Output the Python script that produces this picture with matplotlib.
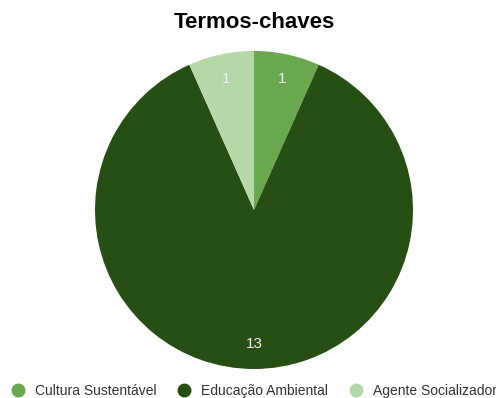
import matplotlib
matplotlib.use('Agg')
import matplotlib.pyplot as plt

# data
categories = ['Cultura Sustentável', 'Educação Ambiental', 'Agente Socializador']
values = [1, 13, 1]
colors = ['#6aa84f', '#274e13', '#b6d7a8']
title = 'Termos-chaves'

plt.rcParams['font.family'] = ['Liberation Sans', 'DejaVu Sans']

fig = plt.figure(figsize=(4.96, 3.98), dpi=100)
# pie area, square in pixels
ax = fig.add_axes([95/496, 29/398, 318/496, 318/398])

total = sum(values)
wedges, texts, autotexts = ax.pie(values, colors=colors, startangle=90, counterclock=False,
                                  autopct=lambda p: '%d' % round(p * total / 100),
                                  pctdistance=0.84, radius=1,
                                  textprops={'color': '#f2f2f2', 'fontsize': 11})
ax.set_xlim(-1, 1)
ax.set_ylim(-1, 1)
ax.set_aspect('equal')
ax.axis('off')

fig.text(254/496, 1 - 22/398, title, ha='center', va='center',
         fontsize=16, fontweight='bold', color='black')

# legend along the bottom (runs off the right edge like the original)
handles = [plt.Line2D([], [], marker='o', ls='', markersize=9, color=c) for c in colors]
fig.legend(handles, categories, ncol=3, loc='center left',
           bbox_to_anchor=(11/496, 1 - 391/398), frameon=False,
           borderpad=0, borderaxespad=0, handlelength=1.0, handletextpad=0.72,
           columnspacing=1.5, fontsize=10, labelcolor='#333333')

plt.savefig('out.png', dpi=100)
